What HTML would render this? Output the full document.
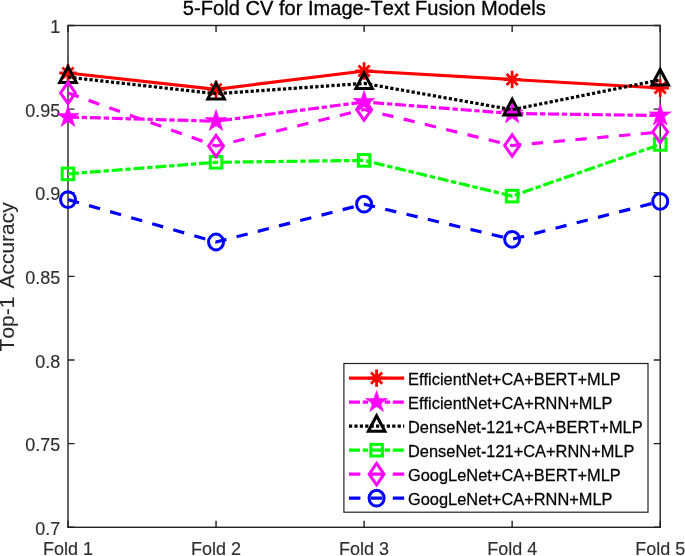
<!DOCTYPE html>
<html><head><meta charset="utf-8"><style>
html,body{margin:0;padding:0;background:#fff;width:685px;height:556px;overflow:hidden}
svg{display:block;filter:blur(0.3px)}
text{font-family:"Liberation Sans",sans-serif;font-kerning:none}
.tk{font-size:18px;fill:#2e2e2e;stroke:#2e2e2e;stroke-width:0.15px}
.ti{font-size:20.1px;fill:#000;stroke:#000;stroke-width:0.3px}
.yl{font-size:21px;fill:#2a2a2a;stroke:#2a2a2a;stroke-width:0.1px}
.lg{font-size:16.4px;fill:#000;stroke:#000;stroke-width:0.25px}
</style></head><body>
<svg width="685" height="556" viewBox="0 0 685 556">
<rect width="685" height="556" fill="#fff"/>
<rect x="68.0" y="25.5" width="592.20" height="501.80" fill="#fff" stroke="#222" stroke-width="1.4"/>
<path d="M68.0,527.30h6.5M660.2,527.30h-6.5M68.0,443.67h6.5M660.2,443.67h-6.5M68.0,360.03h6.5M660.2,360.03h-6.5M68.0,276.40h6.5M660.2,276.40h-6.5M68.0,192.77h6.5M660.2,192.77h-6.5M68.0,109.13h6.5M660.2,109.13h-6.5M68.0,25.50h6.5M660.2,25.50h-6.5M68.00,527.3v-6.5M68.00,25.5v6.5M216.05,527.3v-6.5M216.05,25.5v6.5M364.10,527.3v-6.5M364.10,25.5v6.5M512.15,527.3v-6.5M512.15,25.5v6.5M660.20,527.3v-6.5M660.20,25.5v6.5" stroke="#222" stroke-width="1.4" fill="none"/>
<text transform="translate(60.3,534.90) scale(1,1.045)" text-anchor="end" class="tk">0.7</text>
<text transform="translate(60.3,451.27) scale(1,1.045)" text-anchor="end" class="tk">0.75</text>
<text transform="translate(60.3,367.63) scale(1,1.045)" text-anchor="end" class="tk">0.8</text>
<text transform="translate(60.3,284.00) scale(1,1.045)" text-anchor="end" class="tk">0.85</text>
<text transform="translate(60.3,200.37) scale(1,1.045)" text-anchor="end" class="tk">0.9</text>
<text transform="translate(60.3,116.73) scale(1,1.045)" text-anchor="end" class="tk">0.95</text>
<text transform="translate(60.3,33.10) scale(1,1.045)" text-anchor="end" class="tk">1</text>
<text transform="translate(68.00,555.2) scale(1,1.045)" text-anchor="middle" class="tk">Fold 1</text>
<text transform="translate(216.05,555.2) scale(1,1.045)" text-anchor="middle" class="tk">Fold 2</text>
<text transform="translate(364.10,555.2) scale(1,1.045)" text-anchor="middle" class="tk">Fold 3</text>
<text transform="translate(512.15,555.2) scale(1,1.045)" text-anchor="middle" class="tk">Fold 4</text>
<text transform="translate(660.20,555.2) scale(1,1.045)" text-anchor="middle" class="tk">Fold 5</text>
<text transform="translate(364.3,15.2) scale(1,1.045)" text-anchor="middle" class="ti">5-Fold CV for Image-Text Fusion Models</text>
<text x="0" y="0" transform="translate(14.1,351.4) rotate(-90)" class="yl">Top-1</text>
<text x="0" y="0" transform="translate(14.1,288.6) rotate(-90)" class="yl">Accuracy</text>
<path d="M68.00,73.00 L216.05,89.30 L364.10,71.00 L512.15,79.50 L660.20,88.00" fill="none" stroke="#ff0000" stroke-width="3.2" stroke-linejoin="round"/>
<path d="M68.00,64.30V81.70M59.30,73.00H76.70M62.40,67.40L73.60,78.60M73.60,67.40L62.40,78.60" stroke="#ff0000" stroke-width="2.8" fill="none"/>
<path d="M216.05,80.60V98.00M207.35,89.30H224.75M210.45,83.70L221.65,94.90M221.65,83.70L210.45,94.90" stroke="#ff0000" stroke-width="2.8" fill="none"/>
<path d="M364.10,62.30V79.70M355.40,71.00H372.80M358.50,65.40L369.70,76.60M369.70,65.40L358.50,76.60" stroke="#ff0000" stroke-width="2.8" fill="none"/>
<path d="M512.15,70.80V88.20M503.45,79.50H520.85M506.55,73.90L517.75,85.10M517.75,73.90L506.55,85.10" stroke="#ff0000" stroke-width="2.8" fill="none"/>
<path d="M660.20,79.30V96.70M651.50,88.00H668.90M654.60,82.40L665.80,93.60M665.80,82.40L654.60,93.60" stroke="#ff0000" stroke-width="2.8" fill="none"/>
<path d="M68.00,117.00 L216.05,121.20 L364.10,102.00 L512.15,113.50 L660.20,115.50" fill="none" stroke="#ff00ff" stroke-width="3.2" stroke-linejoin="round" stroke-dasharray="11 2.75 5.4 2.75"/>
<path d="M68.00,105.40 L70.60,113.42 L79.03,113.42 L72.21,118.37 L74.82,126.38 L68.00,121.43 L61.18,126.38 L63.79,118.37 L56.97,113.42 L65.40,113.42Z" fill="#ff00ff" stroke="#ff00ff" stroke-width="0.6" stroke-linejoin="miter"/>
<path d="M216.05,109.60 L218.65,117.62 L227.08,117.62 L220.26,122.57 L222.87,130.58 L216.05,125.63 L209.23,130.58 L211.84,122.57 L205.02,117.62 L213.45,117.62Z" fill="#ff00ff" stroke="#ff00ff" stroke-width="0.6" stroke-linejoin="miter"/>
<path d="M364.10,90.40 L366.70,98.42 L375.13,98.42 L368.31,103.37 L370.92,111.38 L364.10,106.43 L357.28,111.38 L359.89,103.37 L353.07,98.42 L361.50,98.42Z" fill="#ff00ff" stroke="#ff00ff" stroke-width="0.6" stroke-linejoin="miter"/>
<path d="M512.15,101.90 L514.75,109.92 L523.18,109.92 L516.36,114.87 L518.97,122.88 L512.15,117.93 L505.33,122.88 L507.94,114.87 L501.12,109.92 L509.55,109.92Z" fill="#ff00ff" stroke="#ff00ff" stroke-width="0.6" stroke-linejoin="miter"/>
<path d="M660.20,103.90 L662.80,111.92 L671.23,111.92 L664.41,116.87 L667.02,124.88 L660.20,119.93 L653.38,124.88 L655.99,116.87 L649.17,111.92 L657.60,111.92Z" fill="#ff00ff" stroke="#ff00ff" stroke-width="0.6" stroke-linejoin="miter"/>
<path d="M68.00,77.20 L216.05,93.70 L364.10,83.40 L512.15,109.70 L660.20,79.90" fill="none" stroke="#000000" stroke-width="3.2" stroke-linejoin="round" stroke-dasharray="3.2 2.2"/>
<path d="M68.00,66.80L76.30,82.40L59.70,82.40Z" fill="none" stroke="#000000" stroke-width="3" stroke-linejoin="miter" stroke-miterlimit="10"/>
<path d="M216.05,83.30L224.35,98.90L207.75,98.90Z" fill="none" stroke="#000000" stroke-width="3" stroke-linejoin="miter" stroke-miterlimit="10"/>
<path d="M364.10,73.00L372.40,88.60L355.80,88.60Z" fill="none" stroke="#000000" stroke-width="3" stroke-linejoin="miter" stroke-miterlimit="10"/>
<path d="M512.15,99.30L520.45,114.90L503.85,114.90Z" fill="none" stroke="#000000" stroke-width="3" stroke-linejoin="miter" stroke-miterlimit="10"/>
<path d="M660.20,69.50L668.50,85.10L651.90,85.10Z" fill="none" stroke="#000000" stroke-width="3" stroke-linejoin="miter" stroke-miterlimit="10"/>
<path d="M68.00,173.90 L216.05,162.30 L364.10,160.40 L512.15,196.10 L660.20,144.40" fill="none" stroke="#00ff00" stroke-width="3.2" stroke-linejoin="round" stroke-dasharray="11 2.75 5.4 2.75"/>
<rect x="62.20" y="168.10" width="11.60" height="11.60" fill="none" stroke="#00ff00" stroke-width="3"/>
<rect x="210.25" y="156.50" width="11.60" height="11.60" fill="none" stroke="#00ff00" stroke-width="3"/>
<rect x="358.30" y="154.60" width="11.60" height="11.60" fill="none" stroke="#00ff00" stroke-width="3"/>
<rect x="506.35" y="190.30" width="11.60" height="11.60" fill="none" stroke="#00ff00" stroke-width="3"/>
<rect x="654.40" y="138.60" width="11.60" height="11.60" fill="none" stroke="#00ff00" stroke-width="3"/>
<path d="M68.00,93.00 L216.05,146.00 L364.10,109.50 L512.15,145.50 L660.20,132.00" fill="none" stroke="#ff00ff" stroke-width="3.2" stroke-linejoin="round" stroke-dasharray="11.4 10.5"/>
<path d="M68.00,82.30L75.45,93.00L68.00,103.70L60.55,93.00Z" fill="none" stroke="#ff00ff" stroke-width="3" stroke-linejoin="miter" stroke-miterlimit="10"/>
<path d="M216.05,135.30L223.50,146.00L216.05,156.70L208.60,146.00Z" fill="none" stroke="#ff00ff" stroke-width="3" stroke-linejoin="miter" stroke-miterlimit="10"/>
<path d="M364.10,98.80L371.55,109.50L364.10,120.20L356.65,109.50Z" fill="none" stroke="#ff00ff" stroke-width="3" stroke-linejoin="miter" stroke-miterlimit="10"/>
<path d="M512.15,134.80L519.60,145.50L512.15,156.20L504.70,145.50Z" fill="none" stroke="#ff00ff" stroke-width="3" stroke-linejoin="miter" stroke-miterlimit="10"/>
<path d="M660.20,121.30L667.65,132.00L660.20,142.70L652.75,132.00Z" fill="none" stroke="#ff00ff" stroke-width="3" stroke-linejoin="miter" stroke-miterlimit="10"/>
<path d="M68.00,199.60 L216.05,242.00 L364.10,204.20 L512.15,239.30 L660.20,201.40" fill="none" stroke="#0000ff" stroke-width="3.2" stroke-linejoin="round" stroke-dasharray="11.4 10.5"/>
<ellipse cx="68.00" cy="199.60" rx="7.5" ry="7.9" fill="none" stroke="#0000ff" stroke-width="3"/>
<ellipse cx="216.05" cy="242.00" rx="7.5" ry="7.9" fill="none" stroke="#0000ff" stroke-width="3"/>
<ellipse cx="364.10" cy="204.20" rx="7.5" ry="7.9" fill="none" stroke="#0000ff" stroke-width="3"/>
<ellipse cx="512.15" cy="239.30" rx="7.5" ry="7.9" fill="none" stroke="#0000ff" stroke-width="3"/>
<ellipse cx="660.20" cy="201.40" rx="7.5" ry="7.9" fill="none" stroke="#0000ff" stroke-width="3"/>
<rect x="343.9" y="363.5" width="304.10" height="148.70" fill="#fff" stroke="#222" stroke-width="1.2"/>
<path d="M349.00,378.10 L404.20,378.10" fill="none" stroke="#ff0000" stroke-width="3.2" stroke-linejoin="round"/>
<path d="M376.60,369.40V386.80M367.90,378.10H385.30M371.00,372.50L382.20,383.70M382.20,372.50L371.00,383.70" stroke="#ff0000" stroke-width="2.8" fill="none"/>
<text transform="translate(408.0,385.20) scale(1,1.045)" class="lg">EfficientNet+CA+BERT+MLP</text>
<path d="M349.00,402.12 L404.20,402.12" fill="none" stroke="#ff00ff" stroke-width="3.2" stroke-linejoin="round" stroke-dasharray="11 2.75 5.4 2.75"/>
<path d="M376.60,390.52 L379.20,398.54 L387.63,398.54 L380.81,403.49 L383.42,411.50 L376.60,406.55 L369.78,411.50 L372.39,403.49 L365.57,398.54 L374.00,398.54Z" fill="#ff00ff" stroke="#ff00ff" stroke-width="0.6" stroke-linejoin="miter"/>
<text transform="translate(408.0,409.22) scale(1,1.045)" class="lg">EfficientNet+CA+RNN+MLP</text>
<path d="M349.00,426.14 L404.20,426.14" fill="none" stroke="#000000" stroke-width="3.2" stroke-linejoin="round" stroke-dasharray="3.2 2.2"/>
<path d="M376.60,415.74L384.90,431.34L368.30,431.34Z" fill="none" stroke="#000000" stroke-width="3" stroke-linejoin="miter" stroke-miterlimit="10"/>
<text transform="translate(408.0,433.24) scale(1,1.045)" class="lg">DenseNet-121+CA+BERT+MLP</text>
<path d="M349.00,450.16 L404.20,450.16" fill="none" stroke="#00ff00" stroke-width="3.2" stroke-linejoin="round" stroke-dasharray="11 2.75 5.4 2.75"/>
<rect x="370.80" y="444.36" width="11.60" height="11.60" fill="none" stroke="#00ff00" stroke-width="3"/>
<text transform="translate(408.0,457.26) scale(1,1.045)" class="lg">DenseNet-121+CA+RNN+MLP</text>
<path d="M349.00,474.18 L404.20,474.18" fill="none" stroke="#ff00ff" stroke-width="3.2" stroke-linejoin="round" stroke-dasharray="11.4 10.5"/>
<path d="M376.60,463.48L384.05,474.18L376.60,484.88L369.15,474.18Z" fill="none" stroke="#ff00ff" stroke-width="3" stroke-linejoin="miter" stroke-miterlimit="10"/>
<text transform="translate(408.0,481.28) scale(1,1.045)" class="lg">GoogLeNet+CA+BERT+MLP</text>
<path d="M349.00,498.20 L404.20,498.20" fill="none" stroke="#0000ff" stroke-width="3.2" stroke-linejoin="round" stroke-dasharray="11.4 10.5"/>
<ellipse cx="376.60" cy="498.20" rx="7.5" ry="7.9" fill="none" stroke="#0000ff" stroke-width="3"/>
<text transform="translate(408.0,505.30) scale(1,1.045)" class="lg">GoogLeNet+CA+RNN+MLP</text>
</svg>
</body></html>
